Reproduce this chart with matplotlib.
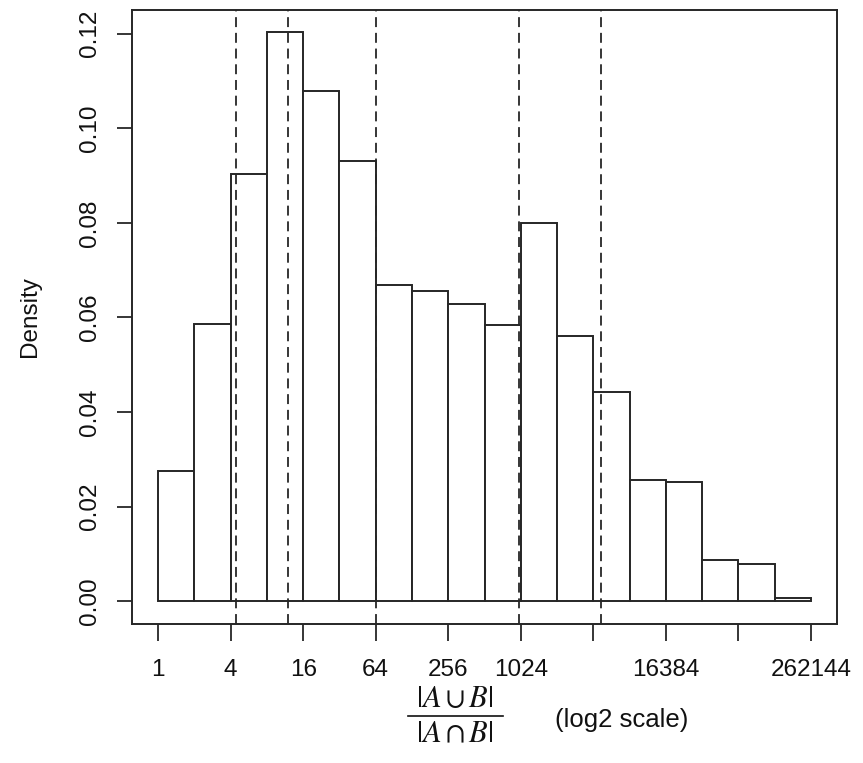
import numpy as np
import matplotlib
matplotlib.use("Agg")
import matplotlib.pyplot as plt
from matplotlib.lines import Line2D
from matplotlib import font_manager

# ---- data (log2 units) ----
bin_edges = list(range(0, 19))
density = [0.0276, 0.0586, 0.0904, 0.1203, 0.1078, 0.0930, 0.0669, 0.0657,
           0.0628, 0.0584, 0.0800, 0.0560, 0.0443, 0.0256, 0.0253, 0.0088,
           0.0079, 0.0006]
vlines = [2.16, 3.59, 6.02, 9.96, 12.20]
xtick_pos = [0, 2, 4, 6, 8, 10, 12, 14, 16, 18]
xtick_labels = ["1", "4", "16", "64", "256", "1024", "", "16384", "", "262144"]
ytick_pos = [0.00, 0.02, 0.04, 0.06, 0.08, 0.10, 0.12]

names = {f.name for f in font_manager.fontManager.ttflist}
narrow = 'Liberation Sans Narrow' in names
fam = ['Liberation Sans Narrow', 'Liberation Sans', 'DejaVu Sans'] if narrow else ['Liberation Sans', 'DejaVu Sans']
fs = 21 if narrow else 17.5
plt.rcParams['font.family'] = fam
plt.rcParams['mathtext.fontset'] = 'stix'

W, H = 863, 763
fig = plt.figure(figsize=(W / 100, H / 100), dpi=100)
L, R, T, B = 132, 837, 9.5, 624
ax = fig.add_axes([L / W, 1 - B / H, (R - L) / W, (B - T) / H])

lc = '#262626'
tc = '#111111'
widths = np.diff(bin_edges)
ax.bar(bin_edges[:-1], density, width=widths, align='edge',
       facecolor='white', edgecolor=lc, linewidth=1.4, zorder=2)
for v in vlines:
    ax.axvline(v, color=lc, linewidth=1.3, dashes=(5.5, 3.2), zorder=3)

lo, hi = bin_edges[0], bin_edges[-1]
ext = 0.04 * (hi - lo)
ax.set_xlim(lo - ext, hi + ext)
ymax = max(density)
ax.set_ylim(-0.04 * ymax, ymax * 1.04)

for s in ax.spines.values():
    s.set_color(lc)
    s.set_linewidth(1.4)

ax.set_xticks(xtick_pos)
ax.set_xticklabels(xtick_labels)
ax.set_yticks(ytick_pos)
ax.set_yticklabels([f"{v:.2f}" for v in ytick_pos], rotation=90, va='center')
ax.tick_params(axis='x', length=12.5, width=1.3, color=lc, pad=13,
               labelsize=fs, labelcolor=tc)
ax.tick_params(axis='y', length=11, width=1.3, color=lc, pad=11,
               labelsize=fs, labelcolor=tc)
ax.set_ylabel("Density", fontsize=fs, color=tc, labelpad=28)

# x label: fraction + "(log2 scale)"
cx = 455
fig.text(cx / W, 1 - 714 / H, r'$|A\cup B|$', ha='center', va='bottom',
         fontsize=22, color=tc)
fig.text(cx / W, 1 - 719 / H, r'$|A\cap B|$', ha='center', va='top',
         fontsize=22, color=tc)
fig.add_artist(Line2D([408 / W, 503 / W], [1 - 716 / H, 1 - 716 / H],
                      transform=fig.transFigure, color=tc, linewidth=1.2))
fig.text(555 / W, 1 - 720 / H, "(log2 scale)", ha='left', va='center',
         fontsize=fs + 1, color=tc)

fig.savefig("out.png", dpi=100)
